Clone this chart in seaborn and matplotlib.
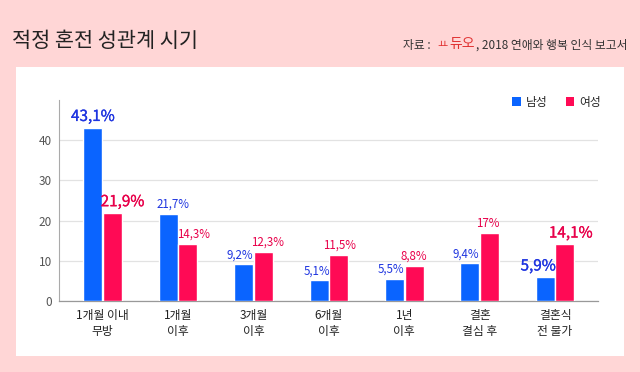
import matplotlib
matplotlib.use("Agg")
import matplotlib.pyplot as plt
import matplotlib.patheffects as pe
import seaborn as sns
import pandas as pd
from matplotlib.patches import Rectangle, Patch

categories = ["1개월 이내\n무방", "1개월\n이후", "3개월\n이후", "6개월\n이후", "1년\n이후", "결혼\n결심 후", "결혼식\n전 불가"]
male = [43.1, 21.7, 9.2, 5.1, 5.5, 9.4, 5.9]
female = [21.9, 14.3, 12.3, 11.5, 8.8, 17.0, 14.1]
male_labels = ["43,1%", "21,7%", "9,2%", "5,1%", "5,5%", "9,4%", "5,9%"]
female_labels = ["21,9%", "14,3%", "12,3%", "11,5%", "8,8%", "17%", "14,1%"]
series = ["남성", "여성"]
title = "적정 혼전 성관계 시기"

sns.set_theme(style="white")
plt.rcParams['font.family'] = ['Noto Sans CJK KR', 'DejaVu Sans']

BLUE = "#0A64FF"
PINK = "#FF0A55"
BLUE_T = "#1F35E0"
PINK_T = "#E8004A"
BG = "#FFD6D6"

df = pd.DataFrame({
    "cat": categories * 2,
    "val": male + female,
    "sex": [series[0]] * len(categories) + [series[1]] * len(categories),
})

fig = plt.figure(figsize=(6.4, 3.72), dpi=100)
fig.patch.set_facecolor(BG)
fig.add_artist(Rectangle((16/640, 1-356/372), (624-16)/640, (356-67)/372,
                         transform=fig.transFigure, facecolor="white", edgecolor="none", zorder=0))

ax = fig.add_axes([59/640, 1-301/372, (598-59)/640, (301-100)/372])
ax.set_facecolor("none")
sns.barplot(data=df, x="cat", y="val", hue="sex", palette=[BLUE, PINK],
            width=0.52, gap=0.03, saturation=1, ax=ax, legend=False, zorder=3)

ax.set_xlim(-0.58, 6.57)
ax.set_ylim(0, 50)
ax.set_yticks([0, 10, 20, 30, 40])
ax.yaxis.grid(True, color="#e2e2e2", linewidth=0.9, zorder=0)
ax.set_axisbelow(True)
for s in ["top", "right"]:
    ax.spines[s].set_visible(False)
ax.spines["left"].set_color("#aaaaaa")
ax.spines["left"].set_linewidth(0.8)
ax.spines["bottom"].set_color("#999999")
ax.spines["bottom"].set_linewidth(0.9)
ax.tick_params(axis="y", length=0, labelsize=8.5, labelcolor="#555555", pad=5)
ax.tick_params(axis="x", length=0, labelsize=8.5, labelcolor="#222222", pad=6)
ax.set_xlabel("")
ax.set_ylabel("")
for t in ax.get_xticklabels():
    t.set_linespacing(1.3)

big_male = [0, 6]
big_female = [0, 6]
m_dx = [0, 5, -4, -2, -4, -4, -7]
f_dx = [10, 6, 4, 1, 0, -2, 6]
bars_m = ax.containers[0]
bars_f = ax.containers[1]


def label(b, txt, dx, big, color):
    x = b.get_x() + b.get_width() / 2
    t = ax.annotate(txt, (x, b.get_height()), xytext=(dx * 0.72, 2),
                    textcoords="offset points", ha="center", va="bottom",
                    fontsize=11 if big else 8.3, color=color)
    if big:
        t.set_path_effects([pe.withStroke(linewidth=0.2, foreground=color)])


for i, b in enumerate(bars_m):
    label(b, male_labels[i], m_dx[i], i in big_male, BLUE_T)
for i, b in enumerate(bars_f):
    label(b, female_labels[i], f_dx[i], i in big_female, PINK_T)

handles = [Patch(facecolor=BLUE, edgecolor="none"), Patch(facecolor=PINK, edgecolor="none")]
ax.legend(handles, series, loc="upper right", bbox_to_anchor=(1.025, 1.075), ncol=2,
          frameon=False, fontsize=8.5, handlelength=0.7, handleheight=0.7,
          handletextpad=0.4, columnspacing=1.6)

fig.text(12/640, 1-41/372, title, fontsize=15, color="#222222", va="center", ha="left")
fig.text(403/640, 1-45/372, "자료 :", fontsize=8.5, color="#333333", va="center", ha="left")
fig.text(437/640, 1-45/372, "ㅛ", fontsize=8, color="#E03030", va="center", ha="left")
fig.text(449/640, 1-44/372, "듀오", fontsize=10, color="#E03030", va="center", ha="left")
fig.text(476/640, 1-45/372, ", 2018 연애와 행복 인식 보고서", fontsize=8.5,
         color="#333333", va="center", ha="left")

fig.savefig("out.png", dpi=100, facecolor=BG)
